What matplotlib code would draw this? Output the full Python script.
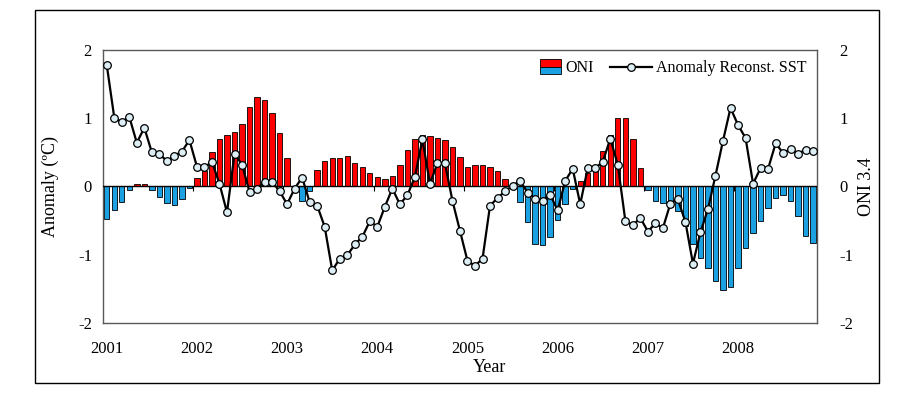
import numpy as np
import matplotlib.pyplot as plt
from matplotlib.patches import Rectangle
from matplotlib.lines import Line2D
from matplotlib.legend_handler import HandlerBase

plt.rcParams['font.family'] = ['Liberation Serif', 'DejaVu Serif']

# monthly values, Jan 2001 - Nov 2008
oni = [-0.47, -0.34, -0.23, -0.05, 0.03, 0.03, -0.05, -0.15, -0.24, -0.27, -0.18, -0.02,
       0.13, 0.23, 0.50, 0.69, 0.76, 0.80, 0.92, 1.17, 1.31, 1.26, 1.08, 0.78,
       0.42, 0.00, -0.21, -0.07, 0.24, 0.37, 0.42, 0.42, 0.45, 0.34, 0.29, 0.20,
       0.14, 0.11, 0.16, 0.32, 0.53, 0.70, 0.75, 0.74, 0.71, 0.68, 0.58, 0.43,
       0.29, 0.32, 0.31, 0.29, 0.22, 0.11, 0.00, -0.23, -0.52, -0.84, -0.86, -0.74,
       -0.49, -0.26, -0.03, 0.08, 0.19, 0.22, 0.52, 0.76, 1.01, 1.01, 0.69, 0.27,
       -0.05, -0.22, -0.24, -0.30, -0.36, -0.58, -0.85, -1.05, -1.20, -1.39, -1.51, -1.47,
       -1.20, -0.90, -0.68, -0.50, -0.31, -0.17, -0.12, -0.21, -0.43, -0.72, -0.83]

sst = [1.78, 1.01, 0.94, 1.02, 0.64, 0.86, 0.50, 0.48, 0.37, 0.45, 0.51, 0.68,
       0.29, 0.28, 0.36, 0.04, -0.38, 0.48, 0.32, -0.08, -0.03, 0.07, 0.07, -0.07,
       -0.26, -0.03, 0.13, -0.23, -0.28, -0.59, -1.23, -1.06, -1.01, -0.85, -0.74, -0.51,
       -0.59, -0.30, -0.03, -0.26, -0.13, 0.14, 0.69, 0.04, 0.34, 0.34, -0.21, -0.65,
       -1.09, -1.16, -1.06, -0.28, -0.17, -0.07, 0.01, 0.08, -0.09, -0.18, -0.21, -0.12,
       -0.35, 0.08, 0.26, -0.26, 0.27, 0.27, 0.36, 0.70, 0.32, -0.50, -0.57, -0.46,
       -0.66, -0.54, -0.61, -0.25, -0.19, -0.52, -1.13, -0.67, -0.33, 0.16, 0.67, 1.15,
       0.90, 0.71, 0.04, 0.27, 0.26, 0.63, 0.49, 0.55, 0.48, 0.54, 0.52]

years = ['2001', '2002', '2003', '2004', '2005', '2006', '2007', '2008']

RED = '#FF0000'
BLUE = '#1BA1E2'


class SplitPatch:
    pass


class HandlerSplit(HandlerBase):
    def create_artists(self, legend, orig_handle, xdescent, ydescent,
                       width, height, fontsize, trans):
        w = width * 0.5
        x0 = -xdescent + width - w
        h = height * 1.35
        y0 = -ydescent - height * 0.18
        top = Rectangle((x0, y0 + h / 2), w, h / 2, facecolor=RED,
                        edgecolor='black', lw=0.6, transform=trans)
        bot = Rectangle((x0, y0), w, h / 2, facecolor=BLUE,
                        edgecolor='black', lw=0.6, transform=trans)
        return [top, bot]


months = np.arange(len(oni))
oni = np.array(oni)
colors = np.where(oni >= 0, RED, BLUE)

fig = plt.figure(figsize=(9.13, 4.01), dpi=100)
ax = fig.add_axes([0.1128, 0.1945, 0.782, 0.681])

ax.bar(months, oni, width=0.72, color=colors, edgecolor='black', linewidth=0.6, zorder=2)
ax.axhline(0, color='black', lw=1, zorder=3)
ax.vlines(np.arange(11.5, len(oni), 12), -0.06, 0, color='black', lw=0.8, zorder=3)
ax.plot(months, sst, color='black', lw=1.6, marker='o', ms=5.5,
        mfc='#DDEEF4', mec='black', mew=0.9, zorder=4)

ax.set_xlim(-0.5, len(oni) - 0.5)
ax.set_ylim(-2, 2)
ax.set_yticks([-2, -1, 0, 1, 2])
ax.set_yticklabels(['-2', '-1', '0', '1', '2'])
ax.set_xticks(np.arange(0, 12 * len(years), 12))
ax.set_xticklabels(years)
ax.tick_params(length=0, labelsize=12)
ax.tick_params(axis='x', pad=13)
ax.tick_params(axis='y', pad=8)
for s in ax.spines.values():
    s.set_color('#595959')
    s.set_linewidth(1)

ax2 = ax.twinx()
ax2.set_ylim(-2, 2)
ax2.set_yticks([-2, -1, 0, 1, 2])
ax2.set_yticklabels(['-2', '-1', '0', '1', '2'])
ax2.tick_params(length=0, labelsize=12, pad=16)
for s in ax2.spines.values():
    s.set_visible(False)

handles = [SplitPatch(),
           Line2D([], [], color='black', lw=1.6, marker='o', ms=5.5,
                  mfc='#DDEEF4', mec='black', mew=0.9)]
ax.legend(handles, ['ONI', 'Anomaly Reconst. SST'],
          handler_map={SplitPatch: HandlerSplit()},
          loc='upper right', bbox_to_anchor=(0.995, 0.985), ncol=2,
          frameon=False, fontsize=11.5, handlelength=2.6, handletextpad=0.3,
          columnspacing=1.0, borderaxespad=0, numpoints=1)

fig.text(50 / 913, 1 - 187 / 401, 'Anomaly (ºC)', rotation=90, ha='center', va='center', fontsize=13)
fig.text(866 / 913, 1 - 187 / 401, 'ONI 3.4', rotation=90, ha='center', va='center', fontsize=13)
fig.text(490 / 913, 1 - 367 / 401, 'Year', ha='center', va='center', fontsize=13)

fig.add_artist(Rectangle((0.038, 0.045), 0.925, 0.930, transform=fig.transFigure,
                         fill=False, edgecolor='black', lw=1))

fig.savefig('out.png', dpi=100)
